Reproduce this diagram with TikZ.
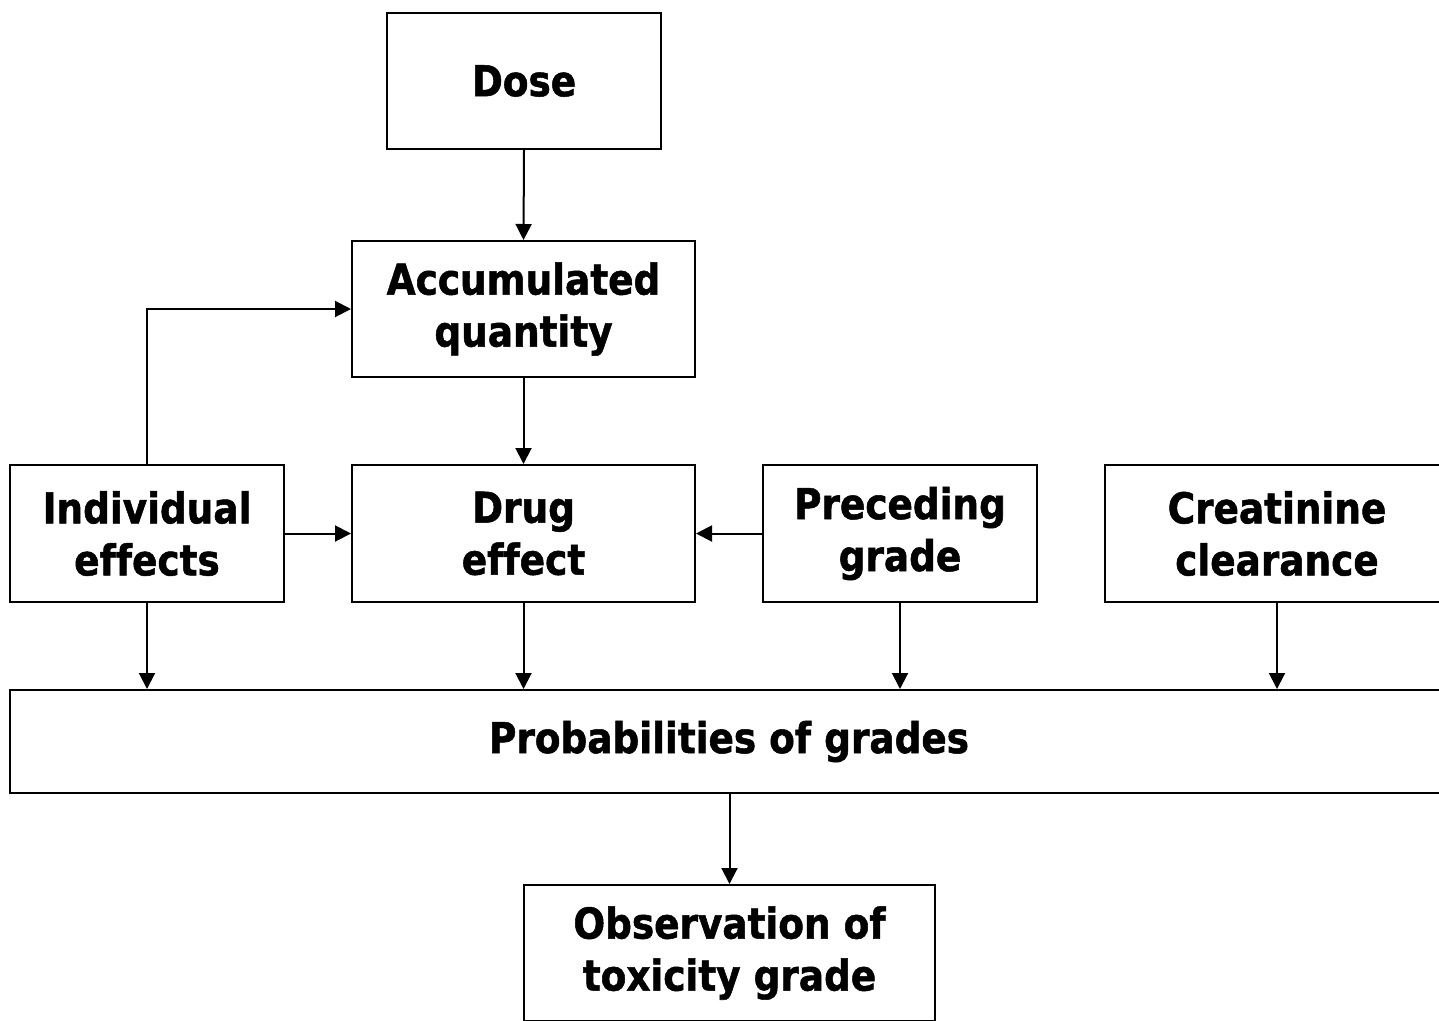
\documentclass[tikz,border=0pt]{standalone}
\usepackage{fontspec}
\setmainfont{DejaVu Sans}[FakeStretch=0.88, Ligatures=NoCommon, BoldFeatures={FakeBold=1.2}]
\usetikzlibrary{arrows.meta}
\begin{document}
\begin{tikzpicture}[x=1pt,y=-1pt,
  box/.style={draw=black, line width=2pt, inner sep=0pt, align=center,
    font=\fontsize{42.5}{52}\selectfont\bfseries},
  arr/.style={draw=black, line width=2pt, -{Triangle[length=16pt,width=16pt]}}]
  \fill[white] (0,0) rectangle (1439,1020);
  \useasboundingbox (0,0) rectangle (1439,1020);

  % boxes
  \node[box, minimum width=274pt, minimum height=136pt] (dose) at (524,81) {Dose};
  \node[box, minimum width=343pt, minimum height=136pt] (acc) at (523.5,309) {Accumulated\\quantity};
  \node[box, minimum width=274pt, minimum height=137pt] (ind) at (147,533.5) {Individual\\effects};
  \node[box, minimum width=343pt, minimum height=137pt] (drug) at (523.5,533.5) {Drug\\effect};
  \node[box, minimum width=274pt, minimum height=137pt] (prec) at (900,533.5) {Preceding\\grade};
  \node[box, minimum width=344pt, minimum height=137pt] (crea) at (1277,533.5) {Creatinine\\clearance};
  \node[box, minimum width=1438pt, minimum height=103pt] (prob) at (729,741.5) {Probabilities of grades};
  \node[box, minimum width=411pt, minimum height=136pt] (obs) at (729.5,953) {Observation of\\toxicity grade};

  % connectors
  \draw[arr] (dose.south) -- (acc.north);
  \draw[arr] (acc.south) -- (drug.north);
  \draw[arr] (ind.north) |- (acc.west);
  \draw[arr] (ind.east) -- (drug.west);
  \draw[arr] (prec.west) -- (drug.east);
  \draw[arr] (ind.south) -- (ind.south |- prob.north);
  \draw[arr] (drug.south) -- (drug.south |- prob.north);
  \draw[arr] (prec.south) -- (prec.south |- prob.north);
  \draw[arr] (crea.south) -- (crea.south |- prob.north);
  \draw[arr] (prob.south -| obs.north) -- (obs.north);
\end{tikzpicture}
\end{document}
